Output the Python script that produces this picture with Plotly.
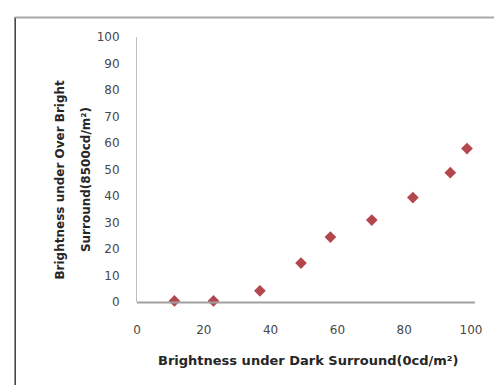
import plotly.graph_objects as go

dark_surround = [11.2, 22.9, 36.8, 49.1, 57.9, 70.3, 82.6, 93.8, 98.8]
over_bright = [0.4, 0.4, 4.2, 14.7, 24.5, 30.9, 39.4, 48.8, 57.9]
x_ticks = [0, 20, 40, 60, 80, 100]
y_ticks = [0, 10, 20, 30, 40, 50, 60, 70, 80, 90, 100]

x_title = "Brightness under Dark Surround(0cd/m²)"
y_title_1 = "Brightness under Over Bright"
y_title_2 = "Surround(8500cd/m²)"

W, H = 494, 385
L, R, T, B = 137, 17, 37, 83
pw, ph = W - L - R, H - T - B

def px(x):
    return (x - L) / pw

def py(y):
    return (H - B - y) / ph

fig = go.Figure()
# x-axis baseline (slightly past the last tick, as in the reference)
fig.add_shape(type="rect", xref="paper", yref="paper",
              x0=px(137), x1=px(481), y0=py(301.5), y1=py(303.5), layer="above",
              fillcolor="#A0A0A0", line=dict(width=0))
fig.add_trace(go.Scatter(
    x=dark_surround, y=over_bright, mode="markers",
    marker=dict(symbol="diamond", size=9, color="#B4464E"),
    showlegend=False, cliponaxis=False,
))

tick_font = dict(family="DejaVu Sans", size=12, color="#484848")
fig.update_xaxes(
    range=[0, 100], tickvals=x_ticks, showgrid=False, zeroline=False,
    showline=False,
    ticks="", tickfont=tick_font, ticklabelstandoff=19,
)
fig.update_yaxes(
    range=[0, 100], tickvals=y_ticks, showgrid=False, zeroline=False,
    showline=True, linecolor="#BDBDBD", linewidth=1,
    ticks="", tickfont=tick_font, ticklabelstandoff=14,
)

title_font = dict(family="DejaVu Sans", size=12, color="#262626")
fig.add_annotation(text="<b>" + x_title + "</b>", xref="paper", yref="paper",
                   x=px(311), y=py(370), showarrow=False,
                   font=dict(title_font, size=13))
fig.add_annotation(text="<b>" + y_title_1 + "</b>", xref="paper", yref="paper",
                   x=px(49), y=py(180), showarrow=False, font=title_font, textangle=-90)
fig.add_annotation(text="<b>" + y_title_2 + "</b>", xref="paper", yref="paper",
                   x=px(76), y=py(180), showarrow=False, font=title_font, textangle=-90)

# outer chart border
fig.add_shape(type="line", xref="paper", yref="paper",
              x0=px(13), x1=px(13), y0=py(17), y1=py(400),
              line=dict(color="#3A3A3A", width=1.5))
fig.add_shape(type="line", xref="paper", yref="paper",
              x0=px(13), x1=px(510), y0=py(17.5), y1=py(17.5),
              line=dict(color="#A8A8A8", width=2))

fig.update_layout(
    width=W, height=H,
    margin=dict(l=L, r=R, t=T, b=B),
    paper_bgcolor="white", plot_bgcolor="rgba(0,0,0,0)",
)
fig.write_html("out.html")
